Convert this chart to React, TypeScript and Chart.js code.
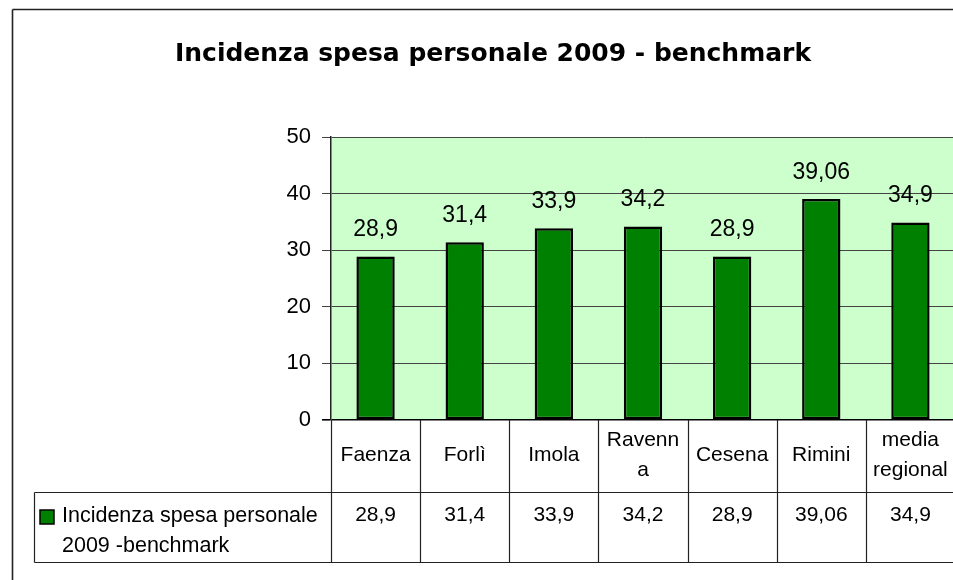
import React, { useEffect, useRef } from "react";
import { Chart, registerables } from "chart.js";

Chart.register(...registerables);

const title = "Incidenza spesa personale 2009 - benchmark";
const categories = ["Faenza", "Forlì", "Imola", "Ravenna", "Cesena", "Rimini", "media regional"];
const headerLabels = [["Faenza"], ["Forlì"], ["Imola"], ["Ravenn", "a"], ["Cesena"], ["Rimini"], ["media", "regional"]];
const values = [28.9, 31.4, 33.9, 34.2, 28.9, 39.06, 34.9];
const seriesName = "Incidenza spesa personale 2009 -benchmark";
const legendLines = ["Incidenza spesa personale", "2009 -benchmark"];
const yMin = 0;
const yMax = 50;
const yStep = 10;

const FONT = '"Liberation Sans", Arial, sans-serif';
const BAR_GREEN = "#008000";
const PLOT_BG = "#CCFFCC";

const fmt = (v: number) => String(v).replace(".", ",");

const backgroundPlugin = {
  id: "bgPlot",
  beforeDraw(chart: any) {
    const { ctx, chartArea } = chart;
    ctx.save();
    ctx.fillStyle = "#ffffff";
    ctx.fillRect(0, 0, chart.width, chart.height);
    ctx.fillStyle = PLOT_BG;
    ctx.fillRect(chartArea.left, chartArea.top, chartArea.right - chartArea.left, chartArea.bottom - chartArea.top);
    ctx.restore();
  },
};

const labelsPlugin = {
  id: "valueLabels",
  afterDatasetsDraw(chart: any) {
    const { ctx } = chart;
    const meta = chart.getDatasetMeta(0);
    ctx.save();
    ctx.fillStyle = "#000";
    ctx.font = `23px ${FONT}`;
    ctx.textAlign = "center";
    ctx.textBaseline = "alphabetic";
    meta.data.forEach((bar: any, i: number) => {
      ctx.fillText(fmt(chart.data.datasets[0].data[i]), bar.x, bar.y - 20);
    });
    ctx.restore();
  },
};

const tablePlugin = {
  id: "dataTable",
  afterDraw(chart: any) {
    const { ctx, chartArea } = chart;
    const { left, right, bottom } = chartArea;
    const n = categories.length;
    const w = (right - left) / n;
    const xs = chart.scales.x;
    const row1Bottom = Math.round(bottom + 72) + 0.5;
    const row2Bottom = Math.round(bottom + 142) + 0.5;
    const legendLeft = 34.5;
    ctx.save();
    ctx.strokeStyle = "#222";
    ctx.lineWidth = 1.2;
    const line = (x1: number, y1: number, x2: number, y2: number) => {
      ctx.beginPath();
      ctx.moveTo(x1, y1);
      ctx.lineTo(x2, y2);
      ctx.stroke();
    };
    line(legendLeft, row1Bottom, right, row1Bottom);
    line(legendLeft, row2Bottom, right, row2Bottom);
    line(legendLeft, row1Bottom, legendLeft, row2Bottom);
    for (let i = 0; i <= n; i++) {
      const bx = Math.round(left + i * w) + 0.5;
      line(bx, bottom, bx, row2Bottom);
    }
    ctx.fillStyle = "#000";
    ctx.font = `21px ${FONT}`;
    ctx.textAlign = "center";
    ctx.textBaseline = "alphabetic";
    headerLabels.forEach((lines, i) => {
      const cx = xs.getPixelForValue(i);
      lines.forEach((t, j) => {
        const by = bottom + 41 + (j - (lines.length - 1) / 2) * 30;
        ctx.fillText(t, cx, by);
      });
      ctx.fillText(fmt(chart.data.datasets[0].data[i]), cx, bottom + 101);
    });
    // legend cell
    ctx.fillStyle = BAR_GREEN;
    ctx.fillRect(40, bottom + 90, 14, 14);
    ctx.strokeStyle = "#000";
    ctx.lineWidth = 1.5;
    ctx.strokeRect(40, bottom + 90, 14, 14);
    ctx.fillStyle = "#000";
    ctx.textAlign = "left";
    ctx.font = `21.5px ${FONT}`;
    legendLines.forEach((t, j) => {
      ctx.fillText(t, 62, bottom + 102 + j * 30);
    });
    // outer frame
    ctx.strokeStyle = "#222";
    ctx.lineWidth = 1.6;
    line(12.5, 9.5, 12.5, chart.height);
    line(12.5, 9.5, chart.width, 9.5);
    // title
    ctx.font = `bold 25px "DejaVu Sans", sans-serif`;
    ctx.textAlign = "center";
    ctx.fillText(title, 493, 61);
    ctx.restore();
  },
};

export default function App() {
  const ref = useRef<HTMLCanvasElement | null>(null);
  useEffect(() => {
    if (!ref.current) return;
    const chart = new Chart(ref.current, {
      type: "bar",
      data: {
        labels: categories,
        datasets: [
          {
            label: seriesName,
            data: values,
            backgroundColor: BAR_GREEN,
            borderColor: "#000",
            borderWidth: 2.5,
            borderSkipped: false,
            barPercentage: 0.43,
            categoryPercentage: 1,
          },
        ],
      },
      options: {
        responsive: false,
        animation: false,
        devicePixelRatio: 1,
        layout: { padding: { top: 137, left: 0, right: 31, bottom: 160 } },
        plugins: {
          legend: { display: false },
          title: { display: false },
          tooltip: { enabled: false },
        },
        scales: {
          x: { display: false, offset: true },
          y: {
            min: yMin,
            max: yMax,
            ticks: { stepSize: yStep, color: "#000", padding: 11, font: { family: FONT, size: 22 } },
            grid: {
              color: (c: any) => (c.tick && c.tick.value === 0 ? "#000" : "#444"),
              lineWidth: (c: any) => (c.tick && c.tick.value === 0 ? 1.6 : 1),
              tickLength: 9,
              drawTicks: true,
            },
            border: { color: "#222", width: 1.5 },
            afterFit: (scale: any) => {
              scale.width = 331;
            },
          },
        },
      },
      plugins: [backgroundPlugin, labelsPlugin, tablePlugin],
    });
    return () => chart.destroy();
  }, []);
  return (
    <div style={{ position: "absolute", left: 0, top: 0, width: 953, height: 580, overflow: "hidden", background: "#fff" }}>
      <canvas ref={ref} width={986} height={580} style={{ width: 986, height: 580, display: "block" }} />
    </div>
  );
}
